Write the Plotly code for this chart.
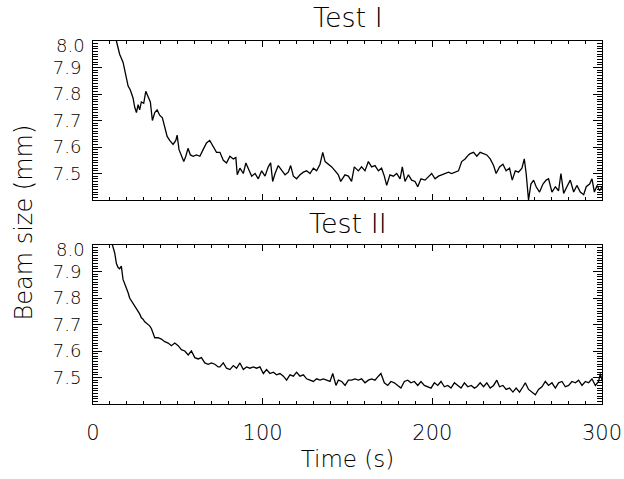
import plotly.graph_objects as go

# ---- data ----
t1 = [13.0, 13.8, 15.7, 17.7, 18.7, 19.7, 20.7, 22.0, 23.6, 24.6, 25.6, 26.6, 27.5, 28.5, 29.9,
      31.1, 32.5, 33.8, 35.0, 36.4, 37.8, 39.3, 40.9, 42.3, 43.7, 45.2, 47.2, 48.8, 49.6, 50.7,
      52.1, 53.5, 54.7, 56.0, 57.4, 59.0, 61.0, 63.0, 64.9, 66.9, 68.8, 70.8, 72.8, 74.8, 76.8,
      78.7, 80.7, 82.7, 84.2, 85.0, 86.6, 88.6, 90.1, 92.1, 93.5, 95.5, 97.4, 99.4, 101.4, 103.3,
      104.7, 105.9, 107.3, 109.2, 111.2, 113.2, 115.1, 116.5, 118.1, 120.0, 122.0, 124.0, 125.9, 127.9, 129.9,
      131.8, 133.8, 135.4, 136.8, 138.7, 140.7, 142.7, 144.6, 146.0, 148.5, 150.5, 152.4, 154.0, 156.4, 158.3,
      160.3, 162.3, 164.2, 166.2, 168.2, 170.1, 171.7, 173.1, 175.0, 177.0, 179.0, 181.0, 182.3, 183.9, 185.9,
      187.8, 189.8, 191.4, 193.3, 195.7, 197.7, 199.6, 201.6, 203.6, 205.5, 207.5, 209.5, 211.4, 213.4, 215.4,
      217.3, 219.3, 221.3, 222.3, 224.3, 226.2, 228.2, 230.2, 232.1, 234.1, 236.1, 237.6, 239.6, 241.6, 243.5,
      245.5, 247.1, 248.9, 250.8, 252.8, 254.2, 255.3, 256.7, 258.1, 259.7, 261.2, 263.2, 265.2, 267.1, 268.5,
      270.5, 272.5, 274.4, 275.8, 277.4, 279.3, 281.3, 283.3, 285.2, 287.2, 289.2, 290.7, 292.7, 294.1, 295.5,
      297.1, 298.6, 300.0]
v1 = [8.01, 8.00, 7.95, 7.92, 7.89, 7.865, 7.83, 7.815, 7.785, 7.75, 7.73, 7.76, 7.74, 7.77, 7.765,
      7.81, 7.785, 7.77, 7.70, 7.73, 7.74, 7.72, 7.71, 7.675, 7.64, 7.625, 7.61, 7.625, 7.645, 7.59,
      7.57, 7.545, 7.565, 7.595, 7.57, 7.565, 7.57, 7.565, 7.59, 7.615, 7.625, 7.60, 7.58, 7.58, 7.55,
      7.54, 7.565, 7.555, 7.56, 7.495, 7.52, 7.50, 7.54, 7.51, 7.49, 7.50, 7.48, 7.51, 7.49, 7.525,
      7.54, 7.47, 7.50, 7.53, 7.51, 7.495, 7.505, 7.53, 7.49, 7.48, 7.495, 7.505, 7.51, 7.50, 7.52,
      7.51, 7.535, 7.58, 7.545, 7.535, 7.525, 7.51, 7.495, 7.47, 7.495, 7.49, 7.47, 7.525, 7.51, 7.525,
      7.51, 7.545, 7.525, 7.53, 7.51, 7.52, 7.49, 7.455, 7.495, 7.49, 7.50, 7.48, 7.525, 7.47, 7.495,
      7.475, 7.47, 7.45, 7.48, 7.475, 7.49, 7.50, 7.48, 7.49, 7.495, 7.50, 7.505, 7.50, 7.505, 7.51,
      7.545, 7.555, 7.57, 7.575, 7.58, 7.565, 7.58, 7.575, 7.57, 7.555, 7.53, 7.50, 7.525, 7.535, 7.51,
      7.52, 7.475, 7.51, 7.505, 7.52, 7.555, 7.50, 7.40, 7.46, 7.475, 7.45, 7.43, 7.46, 7.475, 7.48,
      7.43, 7.45, 7.435, 7.50, 7.425, 7.45, 7.475, 7.43, 7.455, 7.43, 7.42, 7.45, 7.46, 7.48, 7.43,
      7.455, 7.435, 7.45]

t2 = [11.0, 11.4, 12.8, 13.8, 14.8, 15.7, 16.7, 17.7, 18.7, 19.7, 20.7, 21.6, 22.6, 23.6, 24.6,
      25.6, 26.6, 27.5, 28.5, 29.5, 30.5, 31.5, 32.5, 33.4, 34.4, 35.4, 36.4, 38.4, 40.3, 42.3,
      44.3, 46.2, 48.2, 50.2, 52.1, 54.1, 56.1, 58.0, 60.0, 62.0, 63.9, 65.9, 67.9, 69.8, 71.8,
      73.8, 74.8, 76.8, 78.7, 80.7, 82.7, 84.6, 86.6, 88.6, 90.5, 92.5, 94.5, 96.4, 98.4, 100.4,
      102.3, 104.3, 106.3, 108.2, 110.2, 112.2, 114.1, 116.1, 118.1, 120.0, 122.0, 124.0, 125.9, 127.9, 129.9,
      131.8, 133.8, 135.8, 137.7, 139.7, 141.3, 143.2, 144.6, 146.6, 148.6, 150.5, 152.4, 154.4, 156.4, 158.3,
      160.3, 162.3, 164.2, 166.2, 168.2, 169.7, 171.7, 173.7, 175.6, 177.6, 179.6, 181.5, 183.5, 185.5, 187.4,
      189.4, 191.4, 193.3, 195.3, 197.3, 199.2, 201.2, 203.2, 205.1, 207.1, 209.1, 211.0, 213.0, 215.0, 216.9,
      218.9, 220.9, 222.9, 224.8, 226.2, 228.2, 230.2, 232.1, 234.1, 236.1, 238.0, 239.6, 241.6, 243.5, 245.5,
      247.5, 249.4, 251.4, 253.4, 254.8, 256.7, 258.7, 260.7, 262.6, 264.6, 266.6, 268.5, 270.5, 272.5, 274.4,
      276.4, 278.4, 280.3, 282.3, 284.3, 286.2, 288.2, 290.2, 292.1, 294.1, 296.1, 298.0, 299.0, 300.0]
v2 = [8.01, 8.00, 7.97, 7.93, 7.915, 7.91, 7.92, 7.87, 7.855, 7.84, 7.82, 7.80, 7.79, 7.78, 7.77,
      7.755, 7.745, 7.74, 7.725, 7.72, 7.71, 7.705, 7.70, 7.695, 7.685, 7.67, 7.65, 7.65, 7.645, 7.635,
      7.63, 7.62, 7.63, 7.62, 7.605, 7.60, 7.585, 7.60, 7.575, 7.57, 7.575, 7.555, 7.55, 7.555, 7.55,
      7.54, 7.54, 7.555, 7.535, 7.53, 7.545, 7.535, 7.555, 7.53, 7.54, 7.535, 7.54, 7.535, 7.54, 7.515,
      7.53, 7.515, 7.52, 7.51, 7.515, 7.505, 7.49, 7.51, 7.505, 7.52, 7.505, 7.51, 7.495, 7.49, 7.485,
      7.495, 7.49, 7.495, 7.49, 7.485, 7.515, 7.47, 7.49, 7.485, 7.47, 7.49, 7.49, 7.495, 7.49, 7.495,
      7.48, 7.49, 7.495, 7.49, 7.505, 7.515, 7.48, 7.47, 7.485, 7.48, 7.47, 7.46, 7.485, 7.49, 7.48,
      7.485, 7.47, 7.485, 7.47, 7.465, 7.46, 7.48, 7.47, 7.485, 7.465, 7.47, 7.46, 7.48, 7.47, 7.46,
      7.48, 7.465, 7.47, 7.46, 7.465, 7.48, 7.465, 7.48, 7.46, 7.47, 7.49, 7.465, 7.47, 7.455, 7.46,
      7.445, 7.46, 7.445, 7.465, 7.48, 7.455, 7.445, 7.435, 7.455, 7.465, 7.485, 7.47, 7.48, 7.46, 7.48,
      7.485, 7.465, 7.47, 7.485, 7.48, 7.49, 7.47, 7.485, 7.48, 7.495, 7.47, 7.485, 7.515, 7.49]

titles = ["Test I", "Test II"]
x_title = "Time (s)"
y_title = "Beam size (mm)"
y_tickvals = [7.5, 7.6, 7.7, 7.8, 7.9]
y_ticktext = ["7.5", "7.6", "7.7", "7.8", "7.9"]
y_top_label = "8.0"
x_tickvals = [0, 100, 200, 300]

FONT = "DejaVu Sans"
W = 200


def fnt(size):
    return dict(family=FONT, size=size, color="black", weight=W)


fig = go.Figure()
fig.add_trace(go.Scatter(x=t1, y=v1, mode="lines", line=dict(color="black", width=1.3),
                         xaxis="x", yaxis="y", showlegend=False, hoverinfo="skip"))
fig.add_trace(go.Scatter(x=t2, y=v2, mode="lines", line=dict(color="black", width=1.3),
                         xaxis="x2", yaxis="y2", showlegend=False, hoverinfo="skip"))


def xax(anchor, labels):
    return dict(range=[0, 300], showgrid=False, zeroline=False, showline=True, linecolor="black",
                linewidth=1, mirror="allticks", ticks="inside", ticklen=6, tickcolor="black",
                tickvals=x_tickvals, showticklabels=labels, anchor=anchor,
                tickfont=fnt(21), ticklabelstandoff=10,
                minor=dict(dtick=10, ticklen=3, ticks="inside", tickcolor="black"))


def yax(domain, anchor):
    return dict(range=[7.4, 8.0], domain=domain, anchor=anchor, showgrid=False, zeroline=False,
                showline=True, linecolor="black", linewidth=1, mirror="allticks", ticks="inside",
                ticklen=9, tickcolor="black", tickvals=y_tickvals, ticktext=y_ticktext,
                tickfont=fnt(18), ticklabelstandoff=7,
                minor=dict(dtick=0.01, ticklen=5, ticks="inside", tickcolor="black"))


fig.update_layout(
    width=624, height=479, margin=dict(l=93, r=22, t=41, b=75, autoexpand=False),
    paper_bgcolor="white", plot_bgcolor="white",
    xaxis=xax("y", False), yaxis=yax([0.562, 1.0], "x"),
    xaxis2=xax("y2", True), yaxis2=yax([0.0, 0.438], "x2"),
    font=fnt(16),
)
fig.layout.xaxis2.title = dict(text=x_title, font=fnt(23), standoff=6)

ann = []
for i, (ttl, ys) in enumerate(zip(titles, [24, 22])):
    xr = "x domain" if i == 0 else "x2 domain"
    yr = "y domain" if i == 0 else "y2 domain"
    ann.append(dict(text=ttl, xref=xr, yref=yr, x=0.5, y=1.0, yshift=ys, showarrow=False,
                    xanchor="center", yanchor="middle", font=fnt(27)))
    ann.append(dict(text=y_top_label, xref=xr, yref=yr, x=0, y=1.0, xshift=-7, yshift=-4,
                    showarrow=False, xanchor="right", yanchor="middle", font=fnt(18),
                    borderpad=0))
ann.append(dict(text=y_title, xref="paper", yref="paper", x=0, xshift=-70, y=0.5,
                textangle=-90, showarrow=False, xanchor="center", yanchor="middle",
                font=fnt(24)))
fig.update_layout(annotations=ann)

fig.write_html("out.html")
